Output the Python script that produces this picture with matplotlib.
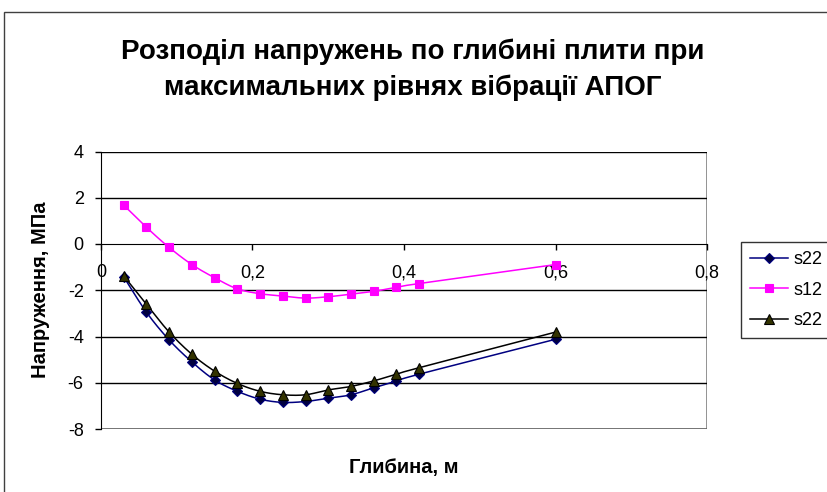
import numpy as np
import matplotlib.pyplot as plt
from matplotlib.patches import Rectangle

plt.rcParams['font.family'] = ['Liberation Sans', 'DejaVu Sans']
plt.rcParams['axes.unicode_minus'] = False

# depth, m
depth = [0.03, 0.06, 0.09, 0.12, 0.15, 0.18, 0.21, 0.24, 0.27, 0.30,
         0.33, 0.36, 0.39, 0.42, 0.60]
s22_a = [-1.42, -2.95, -4.15, -5.10, -5.88, -6.37, -6.71, -6.85, -6.81, -6.67,
         -6.52, -6.22, -5.93, -5.63, -4.12]
s12 = [1.68, 0.72, -0.15, -0.89, -1.46, -1.94, -2.15, -2.25, -2.34, -2.28,
       -2.17, -2.05, -1.87, -1.71, -0.89]
s22_b = [-1.38, -2.61, -3.81, -4.77, -5.50, -6.03, -6.37, -6.52, -6.52, -6.31,
         -6.16, -5.92, -5.63, -5.35, -3.81]
series_names = ['s22', 's12', 's22']
xtick_vals = [0, 0.2, 0.4, 0.6, 0.8]
xtick_labels = ['0', '0,2', '0,4', '0,6', '0,8']
ytick_vals = [-8, -6, -4, -2, 0, 2, 4]


def smooth(x, y, n=20):
    # excel-like smoothed line (bezier, catmull-rom style control points)
    p = np.column_stack([x, y]).astype(float)
    pts = []
    for i in range(len(p) - 1):
        p0 = p[i - 1] if i > 0 else p[i]
        p1 = p[i]
        p2 = p[i + 1]
        p3 = p[i + 2] if i + 2 < len(p) else p[i + 1]
        c1 = p1 + (p2 - p0) / 6
        c2 = p2 - (p3 - p1) / 6
        t = np.linspace(0, 1, n)[:, None]
        seg = ((1 - t) ** 3) * p1 + 3 * ((1 - t) ** 2) * t * c1 + 3 * (1 - t) * t ** 2 * c2 + t ** 3 * p2
        pts.append(seg if i == 0 else seg[1:])
    pts = np.vstack(pts)
    return pts[:, 0], pts[:, 1]


W, H = 827, 492
fig = plt.figure(figsize=(W / 100, H / 100), dpi=100)
fig.patches.append(Rectangle((4 / W, -0.1), 1.2, 1 - 12 / H + 0.1, transform=fig.transFigure,
                             fill=False, edgecolor='#404040', linewidth=1.0))

ax = fig.add_axes([101 / W, 1 - 429 / H, (707 - 101) / W, (429 - 151.5) / H])
ax.set_xlim(0, 0.8)
ax.set_ylim(-8, 4)

styles = [
    dict(color='#000080', marker='D', ms=5, mfc='#000040', mec='#000080'),
    dict(color='#FF00FF', marker='s', ms=6, mfc='#FF00FF', mec='#FF00FF'),
    dict(color='black', marker='^', ms=7, mfc='#333300', mec='black'),
]
for ys, name, st in zip([s22_a, s12, s22_b], series_names, styles):
    sx, sy = smooth(depth, ys)
    ax.plot(sx, sy, color=st['color'], lw=1.1, zorder=3)
    ax.plot(depth, ys, ls='none', marker=st['marker'], ms=st['ms'],
            mfc=st['mfc'], mec=st['mec'], mew=0.8, zorder=4)
    # legend handle
    ax.plot([], [], color=st['color'], lw=1.1, marker=st['marker'], ms=st['ms'],
            mfc=st['mfc'], mec=st['mec'], mew=0.8, label=name)

for v in ytick_vals:
    if v != 0:
        ax.axhline(v, color='black', lw=1.0, zorder=1)

ax.spines['bottom'].set_position(('data', 0))
ax.spines['bottom'].set_color('black')
ax.spines['left'].set_color('black')
ax.spines['top'].set_visible(False)
ax.spines['right'].set_visible(False)
ax.add_patch(Rectangle((0, 0), 1, 1, transform=ax.transAxes, fill=False,
                       edgecolor='#808080', lw=1.2, zorder=0.5))

ax.set_xticks(xtick_vals)
ax.set_xticklabels(xtick_labels)
ax.set_yticks(ytick_vals)
ax.tick_params(axis='both', direction='out', length=4.5, width=1, labelsize=13)
ax.tick_params(axis='x', pad=10)
ax.tick_params(axis='y', pad=8)

ax.set_xlabel('Глибина, м', fontsize=14.5, fontweight='bold')
ax.xaxis.set_label_coords(0.5, (429 - 467) / (429 - 151.5))
ax.xaxis.label.set_va('center')
ax.set_ylabel('Напруження, МПа', fontsize=14.5, fontweight='bold')
ax.yaxis.set_label_coords((41 - 101) / (707 - 101), 0.5)
ax.yaxis.label.set_va('center')

fig.text(413 / W, 1 - 70 / H, 'Розподіл напружень по глибині плити при\nмаксимальних рівнях вібрації АПОГ',
         ha='center', va='center', fontsize=20, fontweight='bold', linespacing=1.45)

leg = fig.legend(loc='upper left', bbox_to_anchor=(741 / W, 1 - 242 / H), frameon=True,
                 fancybox=False, edgecolor='black', fontsize=13, handlelength=2.1,
                 borderpad=0.5, labelspacing=0.75, handletextpad=0.3, borderaxespad=0)
leg.get_frame().set_linewidth(1.0)

fig.savefig('out.png', dpi=100)
